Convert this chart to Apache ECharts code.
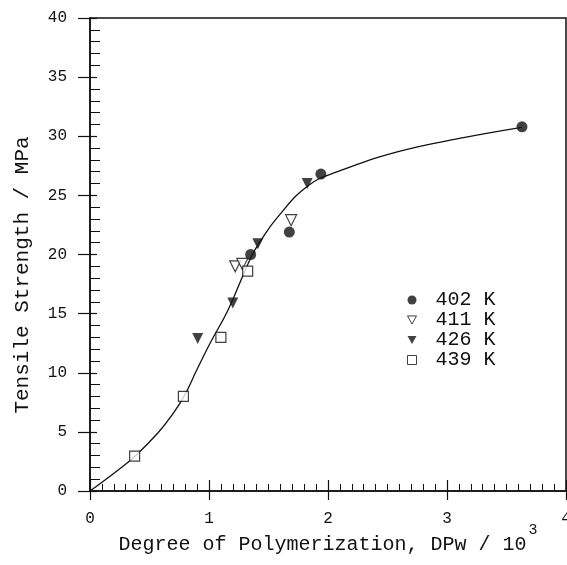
<!DOCTYPE html>
<html>
<head>
<meta charset="utf-8">
<script src="https://cdn.jsdelivr.net/npm/echarts@6/dist/echarts.min.js"></script>
<style>
  html, body { margin: 0; padding: 0; background: #fff; }
  #chart { width: 567px; height: 565px; }
</style>
</head>
<body>
<div id="chart"></div>
<script>
  // data (DPw in 10^3, strength in MPa)
  var s402 = [[1.35, 20.0], [1.675, 21.9], [1.94, 26.8], [3.63, 30.8]];
  var s411 = [[1.22, 19.0], [1.28, 19.2], [1.69, 22.9]];
  var s426 = [[0.905, 12.9], [1.20, 15.9], [1.41, 20.9], [1.825, 26.0]];
  var s439 = [[0.375, 2.95], [0.785, 8.0], [1.10, 13.0], [1.325, 18.6]];
  // fitted curve, traced point by point
  var curve = [[0, 0], [0.24, 1.8], [0.385, 3.0], [0.57, 4.9], [0.68, 6.3], [0.79, 8.0],
    [0.9, 10.3], [1.02, 12.7], [1.16, 15.3], [1.35, 19.7], [1.43, 21.1], [1.58, 23.2],
    [1.83, 25.8], [2.08, 27.0], [2.59, 28.7], [3.15, 29.9], [3.63, 30.75]];
  var legendNames = ["402 K", "411 K", "426 K", "439 K"];
  var xTicks = { min: 0, max: 4, step: 1 };
  var yTicks = { min: 0, max: 40, step: 5 };

  var ink = "#111";
  var mono = "Liberation Mono";
  var downTri = "path://M0,0 L10,0 L5,9 Z";

  var chart = echarts.init(document.getElementById("chart"));
  chart.setOption({
    animation: false,
    backgroundColor: "#fff",
    grid: [
      { left: 90, top: 18, right: 1, bottom: 74, outerBoundsMode: "none", show: true, borderColor: ink, borderWidth: 1.5, backgroundColor: "transparent" },
      { left: 90, top: 18, right: 1, bottom: 74, outerBoundsMode: "none" }
    ],
    legend: {
      orient: "vertical",
      left: 402,
      top: 285,
      itemWidth: 9,
      itemHeight: 9,
      itemGap: 0,
      data: [
        { name: legendNames[0], icon: "circle" },
        { name: legendNames[1], icon: downTri, itemStyle: { color: "#fff", borderColor: ink, borderWidth: 1 } },
        { name: legendNames[2], icon: downTri },
        { name: legendNames[3], icon: "rect", itemStyle: { color: "#fff", borderColor: ink, borderWidth: 1 } }
      ],
      textStyle: { fontFamily: mono, fontSize: 20, lineHeight: 18.5, color: ink, padding: [0, 0, 0, 14] }
    },
    graphic: [
      {
        type: "text",
        x: 22,
        y: 275,
        rotation: Math.PI / 2,
        style: {
          text: "Tensile Strength / MPa",
          font: "21px Liberation Mono",
          fill: ink,
          align: "center",
          verticalAlign: "middle"
        }
      }
    ],
    xAxis: [
      {
        type: "value", gridIndex: 0, position: "bottom",
        min: xTicks.min, max: xTicks.max, interval: xTicks.step,
        axisLine: { show: true, lineStyle: { color: ink, width: 1.5 } },
        axisTick: { show: true, inside: false, length: 9, lineStyle: { color: ink, width: 1.2 } },
        axisLabel: { margin: 20, fontFamily: mono, fontSize: 16, color: ink },
        splitLine: { show: false },
        name: "{a|Degree of Polymerization, DPw / 10}{s|3}",
        nameLocation: "middle",
        nameMoveOverlap: false,
        nameGap: 32,
        nameTextStyle: {
          rich: {
            a: { fontFamily: mono, fontSize: 20, color: ink },
            s: { fontFamily: mono, fontSize: 15, color: ink, padding: [0, 0, 28, 2] }
          }
        }
      },
      {
        type: "value", gridIndex: 1, position: "bottom",
        min: xTicks.min, max: xTicks.max, interval: xTicks.step,
        axisLine: { show: false },
        axisTick: { show: true, inside: true, length: 11, lineStyle: { color: ink, width: 1.2 } },
        minorTick: { show: true, splitNumber: 10, length: 7, lineStyle: { color: ink, width: 1 } },
        axisLabel: { show: false },
        splitLine: { show: false }
      }
    ],
    yAxis: [
      {
        type: "value", gridIndex: 0, position: "left",
        min: yTicks.min, max: yTicks.max, interval: yTicks.step,
        axisLine: { show: true, lineStyle: { color: ink, width: 1.5 } },
        axisTick: { show: true, inside: false, length: 12, lineStyle: { color: ink, width: 1.2 } },
        axisLabel: { margin: 23, fontFamily: mono, fontSize: 16, color: ink },
        splitLine: { show: false }
      },
      {
        type: "value", gridIndex: 1, position: "left",
        min: yTicks.min, max: yTicks.max, interval: yTicks.step,
        axisLine: { show: false },
        axisTick: { show: true, inside: true, length: 7, lineStyle: { color: ink, width: 1.2 } },
        minorTick: { show: true, splitNumber: 5, length: 10, lineStyle: { color: ink, width: 1 } },
        axisLabel: { show: false },
        splitLine: { show: false }
      }
    ],
    series: [
      {
        name: "fit",
        type: "line",
        xAxisIndex: 0, yAxisIndex: 0,
        data: curve,
        smooth: 0.45,
        showSymbol: false,
        z: 1,
        lineStyle: { color: ink, width: 1.3 }
      },
      {
        name: legendNames[0], type: "scatter", data: s402, z: 3,
        symbol: "circle", symbolSize: 11,
        itemStyle: { color: ink }
      },
      {
        name: legendNames[1], type: "scatter", data: s411, z: 3,
        symbol: "triangle", symbolRotate: 180, symbolSize: 11,
        itemStyle: { color: "#fff", borderColor: ink, borderWidth: 1.2 }
      },
      {
        name: legendNames[2], type: "scatter", data: s426, z: 3,
        symbol: "triangle", symbolRotate: 180, symbolSize: 11,
        itemStyle: { color: ink }
      },
      {
        name: legendNames[3], type: "scatter", data: s439, z: 3,
        symbol: "rect", symbolSize: 10,
        itemStyle: { color: "#fff", borderColor: ink, borderWidth: 1.2 }
      }
    ]
  });
</script>
</body>
</html>
